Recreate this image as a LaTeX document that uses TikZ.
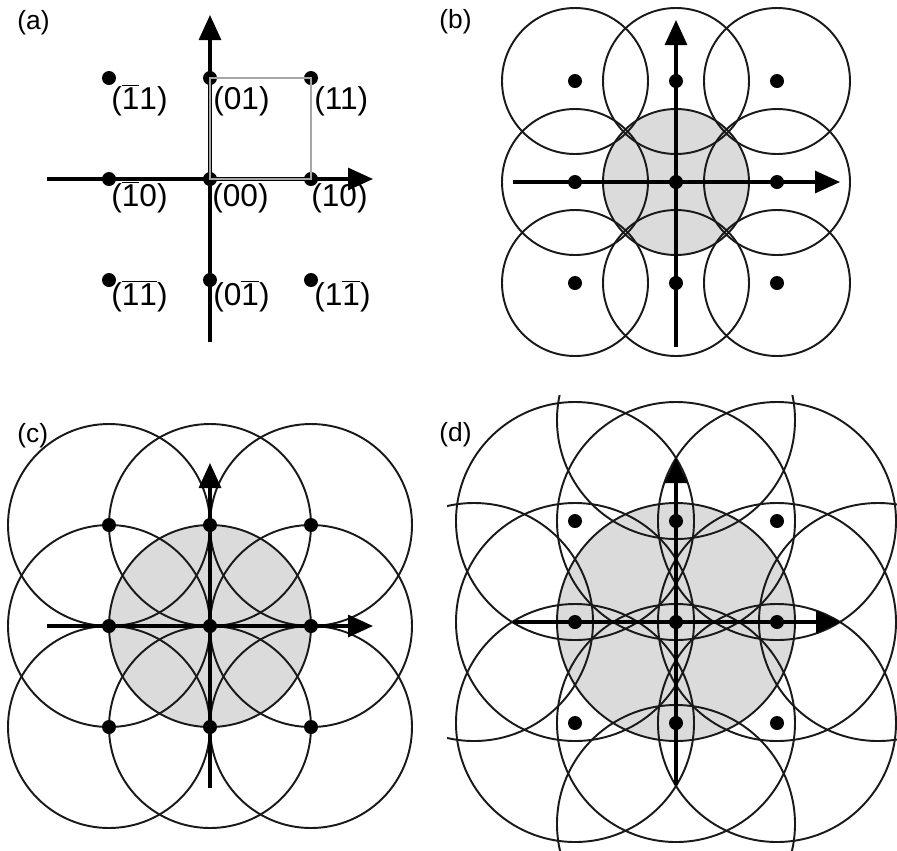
\documentclass[tikz,border=0pt]{standalone}
\usepackage{fontspec}
\setmainfont{Liberation Sans}
\usepackage{tikz}
\usetikzlibrary{arrows.meta}
\newcommand{\barone}{$\overline{\mbox{1}}$}
\tikzset{
  ring/.style ={draw=black!90,line width=1.1pt},
  disc/.style ={fill=black!14},
  axis/.style ={line width=1.8pt,-{Triangle[length=5mm,width=4.4mm]}},
  dot/.style  ={circle,fill=black,inner sep=0pt,minimum size=2.8mm},
  cell/.style ={draw=black!35,line width=1.3pt},
  idx/.style  ={anchor=west,inner sep=0pt,text height=13pt,text depth=4pt,
                font=\fontsize{18}{20}\selectfont},
  tag/.style  ={anchor=west,inner sep=0pt,font=\fontsize{15}{17}\selectfont},
}

\begin{document}
\begin{tikzpicture}[x=0.02cm,y=-0.02cm]
\useasboundingbox (0,0) rectangle (897,850);

% --- (a) lattice with indices ---------------------------------------------
\node[tag] (ta) at (17,23) {(a)};
\begin{scope}[shift={(210,179)}]
  \coordinate (a-w) at (-163,0);
  \coordinate (a-e) at (163,0);
  \coordinate (a-s) at (0,163);
  \coordinate (a-n) at (0,-164);
  \draw[axis] (a-w) -- (a-e);
  \draw[axis] (a-s) -- (a-n);
  \foreach \dx/\i in {-101/m,0/z,101/p}
    \foreach \dy/\j in {101/m,0/z,-101/p}
      \node[dot] (a-\i\j) at (\dx,\dy) {};
  \draw[cell] (a-zp.center) rectangle (a-pz.center);
  \node[idx] (l-mp) at (-99,-77) {(\barone1)};
  \node[idx] (l-zp) at (3,-77)   {(01)};
  \node[idx] (l-pp) at (104,-77) {(11)};
  \node[idx] (l-mz) at (-99,20)  {(\barone0)};
  \node[idx] (l-zz) at (2,20)    {(00)};
  \node[idx] (l-pz) at (101,20)  {(10)};
  \node[idx] (l-mm) at (-99,119) {(\barone\barone)};
  \node[idx] (l-zm) at (3,119)   {(0\barone)};
  \node[idx] (l-pm) at (104,119) {(1\barone)};
\end{scope}

% --- (b) small spheres -----------------------------------------------------
\node[tag] (tb) at (439,22) {(b)};
\begin{scope}[shift={(676,182)}]
  \fill[disc] (0,0) circle (73);
  \foreach \dx in {-101,0,101}
    \foreach \dy in {-101,0,101}
      \draw[ring] (\dx,\dy) circle (73);
  \coordinate (b-w) at (-163,0);
  \coordinate (b-e) at (164,0);
  \coordinate (b-s) at (0,165);
  \coordinate (b-n) at (0,-162);
  \draw[axis] (b-w) -- (b-e);
  \draw[axis] (b-s) -- (b-n);
  \foreach \dx/\i in {-101/m,0/z,101/p}
    \foreach \dy/\j in {101/m,0/z,-101/p}
      \node[dot] (b-\i\j) at (\dx,\dy) {};
\end{scope}

% --- (c) spheres touching neighbours --------------------------------------
\node[tag] (tc) at (17,436) {(c)};
\begin{scope}[shift={(210,626)}]
  \fill[disc] (0,0) circle (101);
  \foreach \dx in {-101,0,101}
    \foreach \dy in {-101,0,101}
      \draw[ring] (\dx,\dy) circle (101);
  \coordinate (c-w) at (-163,0);
  \coordinate (c-e) at (163,0);
  \coordinate (c-s) at (0,162);
  \coordinate (c-n) at (0,-163);
  \draw[axis] (c-w) -- (c-e);
  \draw[axis] (c-s) -- (c-n);
  \foreach \dx/\i in {-101/m,0/z,101/p}
    \foreach \dy/\j in {101/m,0/z,-101/p}
      \node[dot] (c-\i\j) at (\dx,\dy) {};
\end{scope}

% --- (d) large spheres -----------------------------------------------------
\node[tag] (td) at (439,435) {(d)};
\begin{scope}[shift={(676,622)}]
  \clip (-229,-227) rectangle (221,228);
  \fill[disc] (0,0) circle (119);
  \foreach \dx in {-101,0,101}
    \foreach \dy in {-101,0,101}
      \draw[ring] (\dx,\dy) circle (119);
  \foreach \dx/\dy in {-202/0,202/0,0/-202,0/202}
    \draw[ring] (\dx,\dy) circle (119);
  \coordinate (d-w) at (-163,0);
  \coordinate (d-e) at (165,0);
  \coordinate (d-s) at (0,163);
  \coordinate (d-n) at (0,-164);
  \draw[axis] (d-w) -- (d-e);
  \draw[axis] (d-s) -- (d-n);
  \foreach \dx/\i in {-101/m,0/z,101/p}
    \foreach \dy/\j in {101/m,0/z,-101/p}
      \node[dot] (d-\i\j) at (\dx,\dy) {};
\end{scope}

\end{tikzpicture}
\end{document}
